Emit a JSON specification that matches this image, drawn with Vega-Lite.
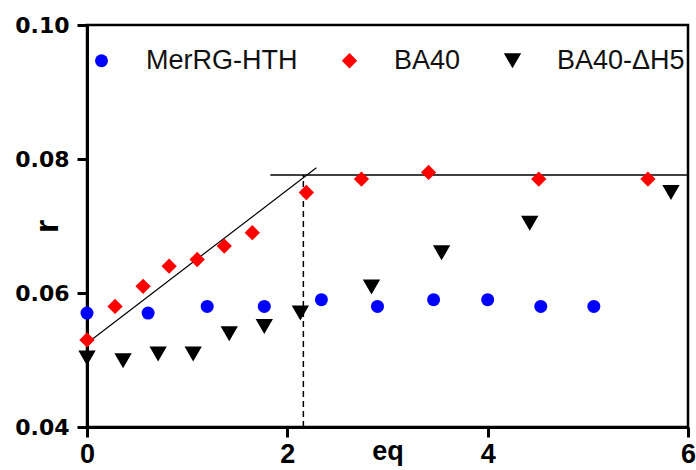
{
  "$schema": "https://vega.github.io/schema/vega-lite/v6.json",
  "width": 601,
  "height": 402,
  "autosize": "none",
  "padding": {"left": 87, "top": 25, "right": 8, "bottom": 43},
  "background": "white",
  "config": {
    "view": {"stroke": "black", "strokeWidth": 2.5},
    "font": "Liberation Sans"
  },
  "datasets": {
    "points": [
      {"series": "MerRG-HTH", "x": 0, "y": 0.057},
      {"series": "MerRG-HTH", "x": 0.61, "y": 0.057},
      {"series": "MerRG-HTH", "x": 1.2, "y": 0.058},
      {"series": "MerRG-HTH", "x": 1.77, "y": 0.058},
      {"series": "MerRG-HTH", "x": 2.34, "y": 0.059},
      {"series": "MerRG-HTH", "x": 2.9, "y": 0.058},
      {"series": "MerRG-HTH", "x": 3.46, "y": 0.059},
      {"series": "MerRG-HTH", "x": 4.0, "y": 0.059},
      {"series": "MerRG-HTH", "x": 4.53, "y": 0.058},
      {"series": "MerRG-HTH", "x": 5.06, "y": 0.058},
      {"series": "BA40", "x": 0, "y": 0.053},
      {"series": "BA40", "x": 0.28, "y": 0.058},
      {"series": "BA40", "x": 0.56, "y": 0.061},
      {"series": "BA40", "x": 0.82, "y": 0.064},
      {"series": "BA40", "x": 1.1, "y": 0.065},
      {"series": "BA40", "x": 1.37, "y": 0.067},
      {"series": "BA40", "x": 1.65, "y": 0.069},
      {"series": "BA40", "x": 2.19, "y": 0.075},
      {"series": "BA40", "x": 2.74, "y": 0.077},
      {"series": "BA40", "x": 3.41, "y": 0.078},
      {"series": "BA40", "x": 4.51, "y": 0.077},
      {"series": "BA40", "x": 5.6, "y": 0.077},
      {"series": "BA40-ΔH5", "x": 0, "y": 0.0503},
      {"series": "BA40-ΔH5", "x": 0.36, "y": 0.0499},
      {"series": "BA40-ΔH5", "x": 0.71, "y": 0.0509},
      {"series": "BA40-ΔH5", "x": 1.06, "y": 0.0509},
      {"series": "BA40-ΔH5", "x": 1.42, "y": 0.0539},
      {"series": "BA40-ΔH5", "x": 1.77, "y": 0.055},
      {"series": "BA40-ΔH5", "x": 2.13, "y": 0.057},
      {"series": "BA40-ΔH5", "x": 2.84, "y": 0.0609},
      {"series": "BA40-ΔH5", "x": 3.54, "y": 0.066},
      {"series": "BA40-ΔH5", "x": 4.42, "y": 0.0704},
      {"series": "BA40-ΔH5", "x": 5.83, "y": 0.075}
    ],
    "lines": [
      {"seg": "fit", "x": 0, "y": 0.0525},
      {"seg": "fit", "x": 2.29, "y": 0.0787},
      {"seg": "plateau", "x": 1.83, "y": 0.0776},
      {"seg": "plateau", "x": 6, "y": 0.0776}
    ],
    "drop": [
      {"x": 2.16, "y": 0.04, "y2": 0.0776}
    ]
  },
  "encoding": {
    "x": {
      "field": "x", "type": "quantitative",
      "scale": {"domain": [0, 6], "nice": false, "zero": false},
      "axis": {
        "values": [0, 2, 4, 6], "title": "eq", "grid": false,
        "domainColor": "black", "domainWidth": 3,
        "tickColor": "black", "tickWidth": 3, "tickSize": 10,
        "labelFont": "Liberation Sans Narrow, Liberation Sans", "labelFontSize": 27, "labelFontWeight": "bold", "labelColor": "black",
        "labelFlush": false, "labelOverlap": false, "labelBound": false,
        "labelBaseline": "alphabetic", "labelPadding": 25,
        "titleFont": "Liberation Sans", "titleFontSize": 27, "titleFontWeight": "bold", "titleColor": "black",
        "titleBaseline": "alphabetic", "titleY": 32
      }
    },
    "y": {
      "field": "y", "type": "quantitative",
      "scale": {"domain": [0.04, 0.10], "nice": false, "zero": false},
      "axis": {
        "values": [0.04, 0.06, 0.08, 0.10], "format": ".2f", "title": "r", "grid": false,
        "domainColor": "black", "domainWidth": 3,
        "tickColor": "black", "tickWidth": 3, "tickSize": 10,
        "labelFont": "DejaVu Sans", "labelFontSize": 22, "labelFontWeight": "bold", "labelColor": "black",
        "labelFlush": false, "labelOverlap": false, "labelBound": false, "labelPadding": 8,
        "titleFont": "Liberation Sans", "titleFontSize": 34, "titleFontWeight": "bold", "titleColor": "black",
        "titleBaseline": "alphabetic", "titleX": -30
      }
    }
  },
  "layer": [
    {
      "data": {"name": "lines"},
      "transform": [{"filter": "datum.seg === 'fit'"}],
      "mark": {"type": "line", "color": "black", "strokeWidth": 1.2},
      "encoding": {}
    },
    {
      "data": {"name": "lines"},
      "transform": [{"filter": "datum.seg === 'plateau'"}],
      "mark": {"type": "line", "color": "black", "strokeWidth": 1.5},
      "encoding": {}
    },
    {
      "data": {"name": "drop"},
      "mark": {"type": "rule", "color": "black", "strokeWidth": 1.5, "strokeDash": [6, 4]},
      "encoding": {"y2": {"field": "y2"}}
    },
    {
      "data": {"name": "points"},
      "mark": {"type": "point", "filled": true, "opacity": 1, "strokeWidth": 0},
      "encoding": {
        "color": {
          "field": "series", "type": "nominal",
          "scale": {"domain": ["MerRG-HTH", "BA40", "BA40-ΔH5"], "range": ["#0000ff", "#ff0000", "#000000"]},
          "legend": {
            "orient": "none", "legendX": 1, "legendY": 22, "direction": "horizontal", "columns": 3,
            "title": null, "labelFontSize": 27, "labelFont": "Liberation Sans", "labelColor": "#111",
            "labelOffset": 31, "columnPadding": 38, "padding": 0, "symbolStrokeWidth": 0, "labelLimit": 0
          }
        },
        "shape": {
          "field": "series", "type": "nominal",
          "scale": {"domain": ["MerRG-HTH", "BA40", "BA40-ΔH5"], "range": ["circle", "diamond", "triangle-down"]}
        },
        "size": {
          "field": "series", "type": "nominal",
          "scale": {"domain": ["MerRG-HTH", "BA40", "BA40-ΔH5"], "range": [169, 300, 380]}
        }
      }
    }
  ]
}
